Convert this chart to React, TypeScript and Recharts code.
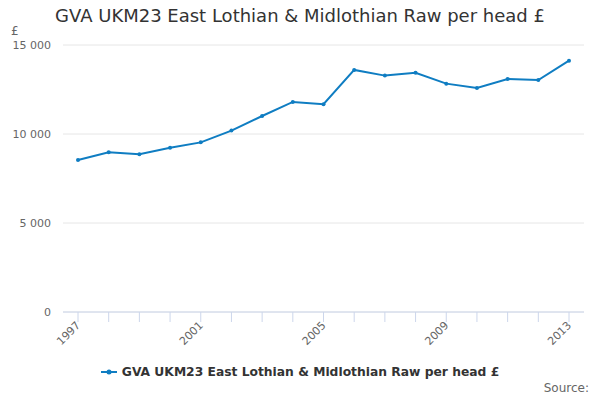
import { CartesianGrid, Line, LineChart, XAxis, YAxis } from "recharts";

const years = [
  "1997", "1998", "1999", "2000", "2001", "2002", "2003", "2004", "2005",
  "2006", "2007", "2008", "2009", "2010", "2011", "2012", "2013",
];
const gvaPerHead = [
  8540, 8970, 8860, 9230, 9530, 10190, 11010, 11800, 11670,
  13600, 13280, 13440, 12830, 12580, 13090, 13030, 14120,
];
const yTicks = [0, 5000, 10000, 15000];

const SERIES = "GVA UKM23 East Lothian & Midlothian Raw per head £";
const BLUE = "#0f7dc2";
const FONT = "'DejaVu Sans', Verdana, sans-serif";

const data = years.map((y, i) => ({ year: y, value: gvaPerHead[i] }));

const spaceFmt = (v: number) => String(v).replace(/\B(?=(\d{3})+(?!\d))/g, " ");

function YearTick(props: any) {
  const { x, y, index, payload } = props;
  return (
    <g>
      <line x1={x} x2={x} y1={y} y2={y + 10} stroke="#ccd6eb" />
      {index % 4 === 0 && (
        <text
          transform={`translate(${x + 3},${y + 14}) rotate(-45)`}
          textAnchor="end"
          fill="#666"
          fontSize={11}
          fontFamily={FONT}
        >
          {payload.value}
        </text>
      )}
    </g>
  );
}

function LegendBox() {
  return (
    <div
      style={{
        position: "absolute", top: 365, left: 0, width: 600,
        display: "flex", justifyContent: "center", alignItems: "center",
      }}
    >
      <svg width={16} height={10} style={{ marginRight: 5 }}>
        <line x1={0} x2={16} y1={5} y2={5} stroke={BLUE} strokeWidth={2} />
        <circle cx={8} cy={5} r={2.5} fill={BLUE} />
      </svg>
      <span style={{ fontSize: 12.3, fontWeight: "bold", color: "#333" }}>{SERIES}</span>
    </div>
  );
}

export default function App() {
  return (
    <div style={{ position: "fixed", left: 0, top: 0, width: 600, height: 400, background: "#fff", fontFamily: FONT }}>
      <div style={{ position: "absolute", top: 5, width: 600, textAlign: "center", fontSize: 18, color: "#333" }}>
        {SERIES}
      </div>
      <div style={{ position: "absolute", left: 11, top: 24, fontSize: 12, color: "#666" }}>£</div>
      <LineChart width={600} height={400} data={data} margin={{ top: 45, right: 16, bottom: 48, left: 0 }}>
        <CartesianGrid vertical={false} stroke="#e6e6e6" />
        <XAxis
          dataKey="year"
          interval={0}
          padding={{ left: 15, right: 15 }}
          stroke="#ccd6eb"
          tickLine={false}
          tickSize={0}
          tickMargin={0}
          tick={<YearTick />}
          height={40}
        />
        <YAxis
          width={63}
          domain={[0, 15000]}
          ticks={yTicks}
          axisLine={false}
          tickLine={false}
          tickSize={0}
          tickMargin={12}
          tickFormatter={spaceFmt}
          tick={{ fill: "#666", fontSize: 11, fontFamily: FONT }}
        />
        <Line
          dataKey="value"
          name={SERIES}
          stroke={BLUE}
          strokeWidth={2}
          dot={{ r: 2, fill: BLUE, stroke: BLUE, strokeWidth: 0 }}
          isAnimationActive={false}
        />
      </LineChart>
      <LegendBox />
      <div style={{ position: "absolute", right: 11, top: 381, fontSize: 12, color: "#666" }}>Source:</div>
    </div>
  );
}
